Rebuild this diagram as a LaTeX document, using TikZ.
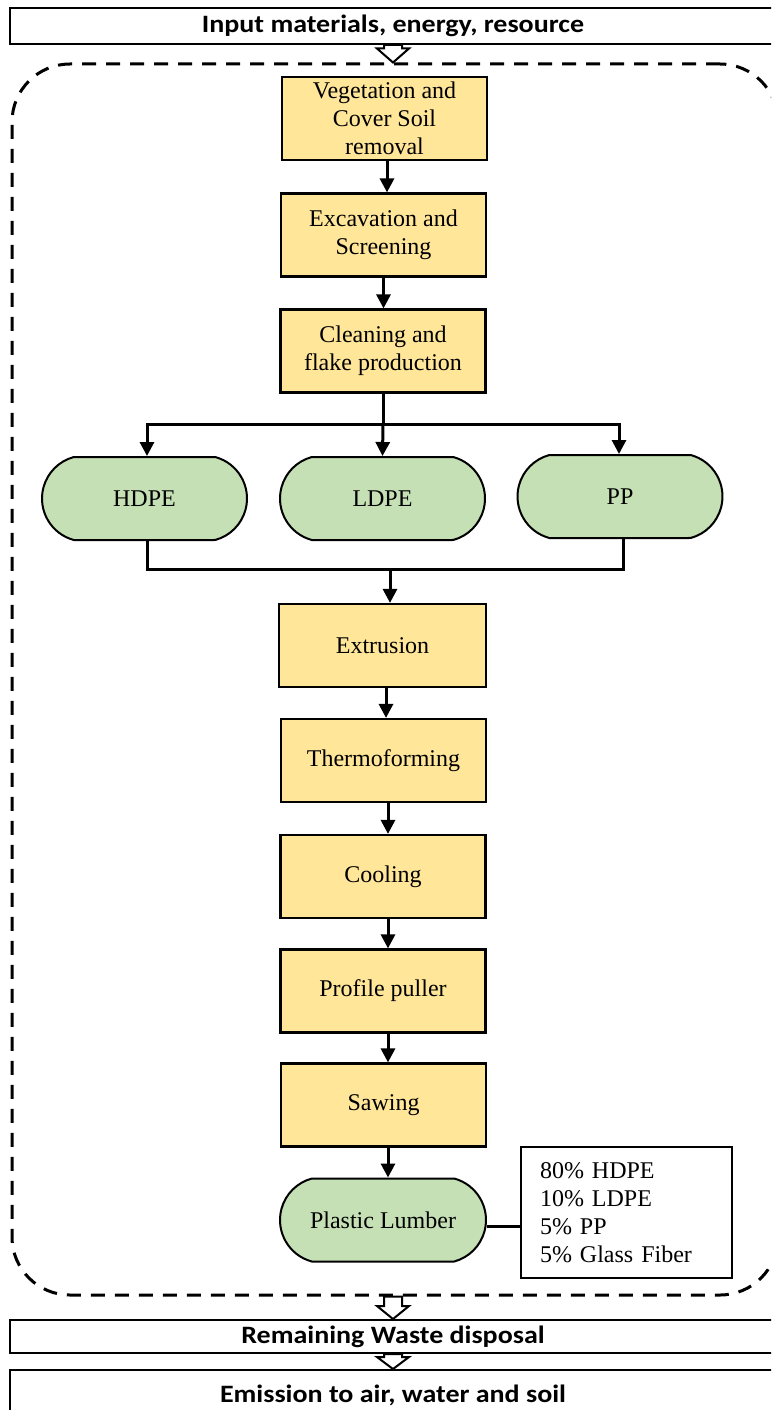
\documentclass[tikz,border=0pt]{standalone}
\usepackage{fontspec}
\setmainfont{Liberation Serif}
\newfontfamily\labelsans[FakeStretch=1.12]{Carlito}
\usetikzlibrary{arrows.meta,calc,shapes.misc}
\definecolor{procfill}{HTML}{FFE699}
\definecolor{matfill}{HTML}{C5E0B4}
\tikzset{
  stage/.style={draw=black, line width=2.2pt, fill=procfill, minimum width=205pt,
    minimum height=83pt, inner sep=0pt, align=center, font=\fontsize{24}{28}\selectfont},
  material/.style={stage, fill=matfill, line width=2pt, rounded rectangle,
    rounded rectangle arc length=150},
  band/.style={draw=black, line width=2pt, fill=white, minimum width=766pt,
    inner sep=0pt, font=\labelsans\bfseries\fontsize{25}{29}\selectfont},
  flow/.style={line width=3pt, -{Triangle[width=14pt,length=14pt]}},
  link/.style={line width=3pt},
  boundary/.style={draw, line width=3pt, dash pattern=on 14pt off 10pt,
    rounded corners=58pt, inner sep=0pt},
  hollow/.style={draw=black, line width=2pt, fill=white, line join=miter},
  mixbox/.style={draw=black, line width=2pt, fill=white, minimum height=131pt,
    inner xsep=19pt, inner ysep=0pt, text width=173pt, align=left,
    font=\fontsize{24}{28}\selectfont},
}
% outlined block arrow: #1 start, #2 tip, #3 head length
\newcommand\blockarrow[3]{%
  \draw[hollow] ($(#1)+(-9,0)$) -- ($(#2)+(-9,-#3)$) -- ($(#2)+(-16,-#3)$) -- (#2)
    -- ($(#2)+(16,-#3)$) -- ($(#2)+(9,-#3)$) -- ($(#1)+(9,0)$) -- cycle;}
\begin{document}
\begin{tikzpicture}[x=1pt,y=-1pt]
\useasboundingbox (0,0) rectangle (771,1410);
\clip (0,0) rectangle (771,1410);

% life-cycle inputs and outputs
\node[band, minimum height=36pt] (input) at (393,26) {Input materials, energy, resource};
\node[band, minimum height=33pt] (waste) at (393,1336.5) {Remaining Waste disposal};
\node[band, minimum height=50pt] (emis) at (393,1395) {Emission to air, water and soil};

% system boundary
\node[boundary, minimum width=766pt, minimum height=1231pt] (sys) at (395,679.5) {};
\coordinate (sysin) at (input.south |- sys.north);
\coordinate (sysout) at (input.south |- sys.south);

% process chain
\node[stage] (veg) at (384.5,118.5) {Vegetation and\\Cover Soil\\removal};
\node[stage] (exc) at (383.5,235) {Excavation and\\Screening};
\node[stage] (clean) at (383,351) {Cleaning and\\flake production};
\node[material] (hdpe) at (144.5,498.5) {HDPE};
\node[material] (ldpe) at (382.5,498.5) {LDPE};
\node[material] (pp) at (620,496.5) {PP};
\node[stage, minimum width=207pt] (extr) at (382.5,645.5) {Extrusion};
\node[stage] (thermo) at (383.5,760.5) {Thermoforming};
\node[stage] (cool) at (383,876.5) {Cooling};
\node[stage] (puller) at (383,991) {Profile puller};
\node[stage] (saw) at (383.5,1105) {Sawing};
\node[material, minimum width=206pt] (lumber) at (383,1220) {Plastic Lumber};
\node[mixbox, anchor=west] (mix) at (520,1212.5) {80\% HDPE\\10\% LDPE\\5\% PP\\5\% Glass Fiber};

% connectors
\draw[flow] ([xshift=2.5pt]veg.south) -- ([xshift=2.5pt]veg.south |- exc.north);
\draw[flow] (exc.south) -- (exc.south |- clean.north);
\coordinate (split) at (383,424);
\draw[link] (clean.south) -- (split);
\draw[flow] (split) -| ([xshift=2.5pt]hdpe.north);
\draw[flow] (split) -- (ldpe.north);
\draw[flow] (split) -| ([xshift=-1pt]pp.north);
\coordinate (merge) at (390,569);
\draw[link] ([xshift=2.5pt]hdpe.south) |- (merge);
\draw[link] ([xshift=3pt]pp.south) |- (merge);
\draw[flow] (merge) -- (merge |- extr.north);
\draw[flow] ([xshift=3.5pt]extr.south) -- ([xshift=3.5pt]extr.south |- thermo.north);
\draw[flow] ([xshift=4.5pt]thermo.south) -- ([xshift=4.5pt]thermo.south |- cool.north);
\draw[flow] ([xshift=5pt]cool.south) -- ([xshift=5pt]cool.south |- puller.north);
\draw[flow] ([xshift=5pt]puller.south) -- ([xshift=5pt]puller.south |- saw.north);
\draw[flow] ([xshift=4.5pt]saw.south) -- ([xshift=4.5pt]saw.south |- lumber.north);
\draw[link] ([yshift=-6pt]lumber.east) -- ([yshift=-6pt]lumber.east -| mix.west);

% block arrows across the boundary
\blockarrow{input.south}{sysin}{14}
\blockarrow{sysout}{waste.north}{13}
\blockarrow{waste.south}{emis.north}{12}
\end{tikzpicture}
\end{document}
